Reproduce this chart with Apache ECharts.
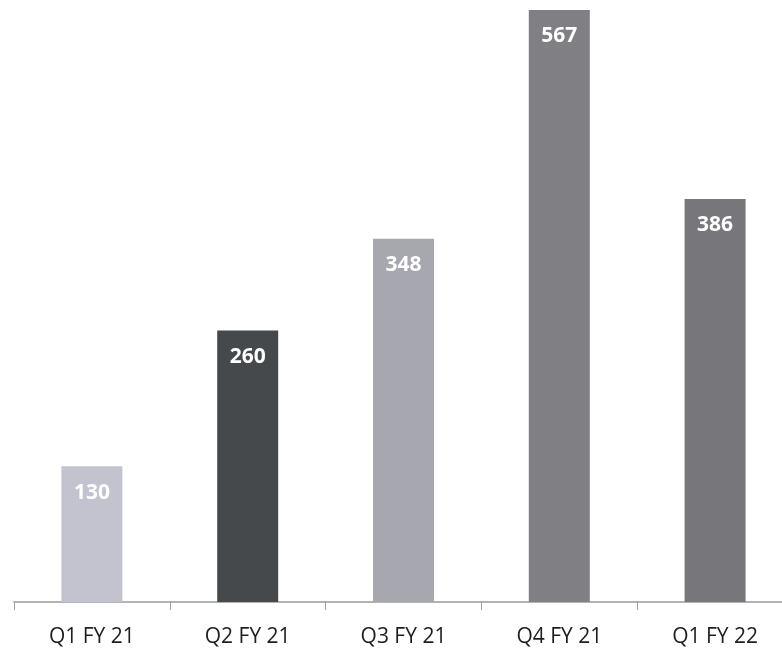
<!DOCTYPE html>
<html>
<head>
<meta charset="utf-8">
<script src="https://cdn.jsdelivr.net/npm/echarts@6/dist/echarts.min.js"></script>
<style>
  html, body { margin: 0; padding: 0; background: #ffffff; overflow: hidden; }
  /* the axis runs past the right edge of the window, so the canvas is a bit wider */
  #chart { width: 800px; height: 653px; }
</style>
</head>
<body>
<div id="chart"></div>
<script>
// Quarterly totals
const quarters = ['Q1 FY 21', 'Q2 FY 21', 'Q3 FY 21', 'Q4 FY 21', 'Q1 FY 22'];
const totals = [130, 260, 348, 567, 386];
const barColors = ['#c3c3cf', '#46494b', '#a7a7af', '#7f7f84', '#76767b'];

const chart = echarts.init(document.getElementById('chart'));

chart.setOption({
  animation: false,
  backgroundColor: '#ffffff',
  grid: { left: 14, width: 779, top: 10, bottom: 51, containLabel: false },
  xAxis: {
    type: 'category',
    data: quarters,
    boundaryGap: true,
    axisLine: { lineStyle: { color: '#9a9a9a', width: 1.5 } },
    axisTick: { show: true, alignWithLabel: false, length: 8, lineStyle: { color: '#a0a0a0' } },
    axisLabel: {
      margin: 25,
      color: '#1e1e1e',
      fontFamily: 'Open Sans',
      fontSize: 21
    }
  },
  yAxis: {
    type: 'value',
    min: 0,
    max: 567,
    show: false,
    splitLine: { show: false }
  },
  series: [{
    type: 'bar',
    barWidth: 61,
    data: totals.map((v, i) => ({ value: v, itemStyle: { color: barColors[i] } })),
    label: {
      show: true,
      position: 'insideTop',
      distance: 16,
      color: '#ffffff',
      fontFamily: 'Open Sans',
      fontWeight: 'bold',
      fontSize: 21
    }
  }]
});
</script>
</body>
</html>
